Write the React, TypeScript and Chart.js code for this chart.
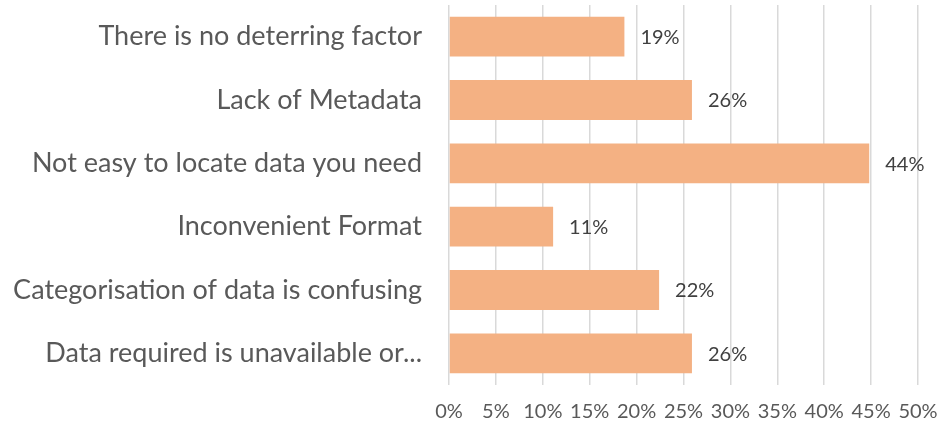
import React, { useEffect, useRef } from "react";
import { Chart, registerables } from "chart.js";

Chart.register(...registerables);

const categories = [
  "There is no deterring factor",
  "Lack of Metadata",
  "Not easy to locate data you need",
  "Inconvenient Format",
  "Categorisation of data is confusing",
  "Data required is unavailable or...",
];
const values = [18.7, 25.9, 44.8, 11.1, 22.4, 25.9];
const valueLabels = ["19%", "26%", "44%", "11%", "22%", "26%"];
const xTicks = [0, 5, 10, 15, 20, 25, 30, 35, 40, 45, 50];

const FONT = "Lato, 'Open Sans', sans-serif";

const labelPlugin = {
  id: "barLabels",
  afterDatasetsDraw(chart: any) {
    const ctx = chart.ctx;
    const meta = chart.getDatasetMeta(0);
    ctx.save();
    ctx.font = `20px ${FONT}`;
    ctx.fillStyle = "#404040";
    ctx.textAlign = "left";
    ctx.textBaseline = "middle";
    meta.data.forEach((bar: any, i: number) => {
      ctx.fillText(valueLabels[i], bar.x + 16, bar.y + 1);
    });
    ctx.restore();
  },
};

export default function App() {
  const ref = useRef<HTMLCanvasElement>(null);
  useEffect(() => {
    const chart = new Chart(ref.current!, {
      type: "bar",
      data: {
        labels: categories,
        datasets: [
          {
            data: values,
            backgroundColor: "#F4B183",
            borderWidth: 0,
            barPercentage: 0.63,
            categoryPercentage: 1,
          },
        ],
      },
      options: {
        indexAxis: "y",
        animation: false,
        responsive: false,
        maintainAspectRatio: false,
        layout: { padding: { top: 5, right: 28, left: 0, bottom: 2 } },
        plugins: { legend: { display: false }, tooltip: { enabled: false } },
        scales: {
          x: {
            min: 0,
            max: 50,
            afterBuildTicks(scale: any) {
              scale.ticks = xTicks.map((v) => ({ value: v }));
            },
            afterFit(scale: any) {
              scale.paddingLeft = 0;
              scale.paddingRight = 0;
              scale.height = 40;
            },
            ticks: {
              callback: (v: any) => `${v}%`,
              color: "#595959",
              font: { family: FONT, size: 20 },
              padding: 15,
              maxRotation: 0,
              autoSkip: false,
            },
            grid: { color: "#D9D9D9", lineWidth: 1.5, drawTicks: false },
            border: { display: false },
          },
          y: {
            afterFit(scale: any) {
              scale.width = 449;
              scale.paddingTop = 0;
              scale.paddingBottom = 0;
            },
            ticks: {
              color: "#595959",
              font: { family: FONT, size: 27 },
              padding: 19,
            },
            grid: { display: false },
            border: { display: false },
          },
        },
      },
      plugins: [labelPlugin],
    });
    return () => chart.destroy();
  }, []);
  return (
    <div style={{ position: "absolute", left: 0, top: 0, width: 946, height: 427, background: "#fff" }}>
      <canvas ref={ref} width={946} height={427} style={{ width: 946, height: 427 }} />
    </div>
  );
}
